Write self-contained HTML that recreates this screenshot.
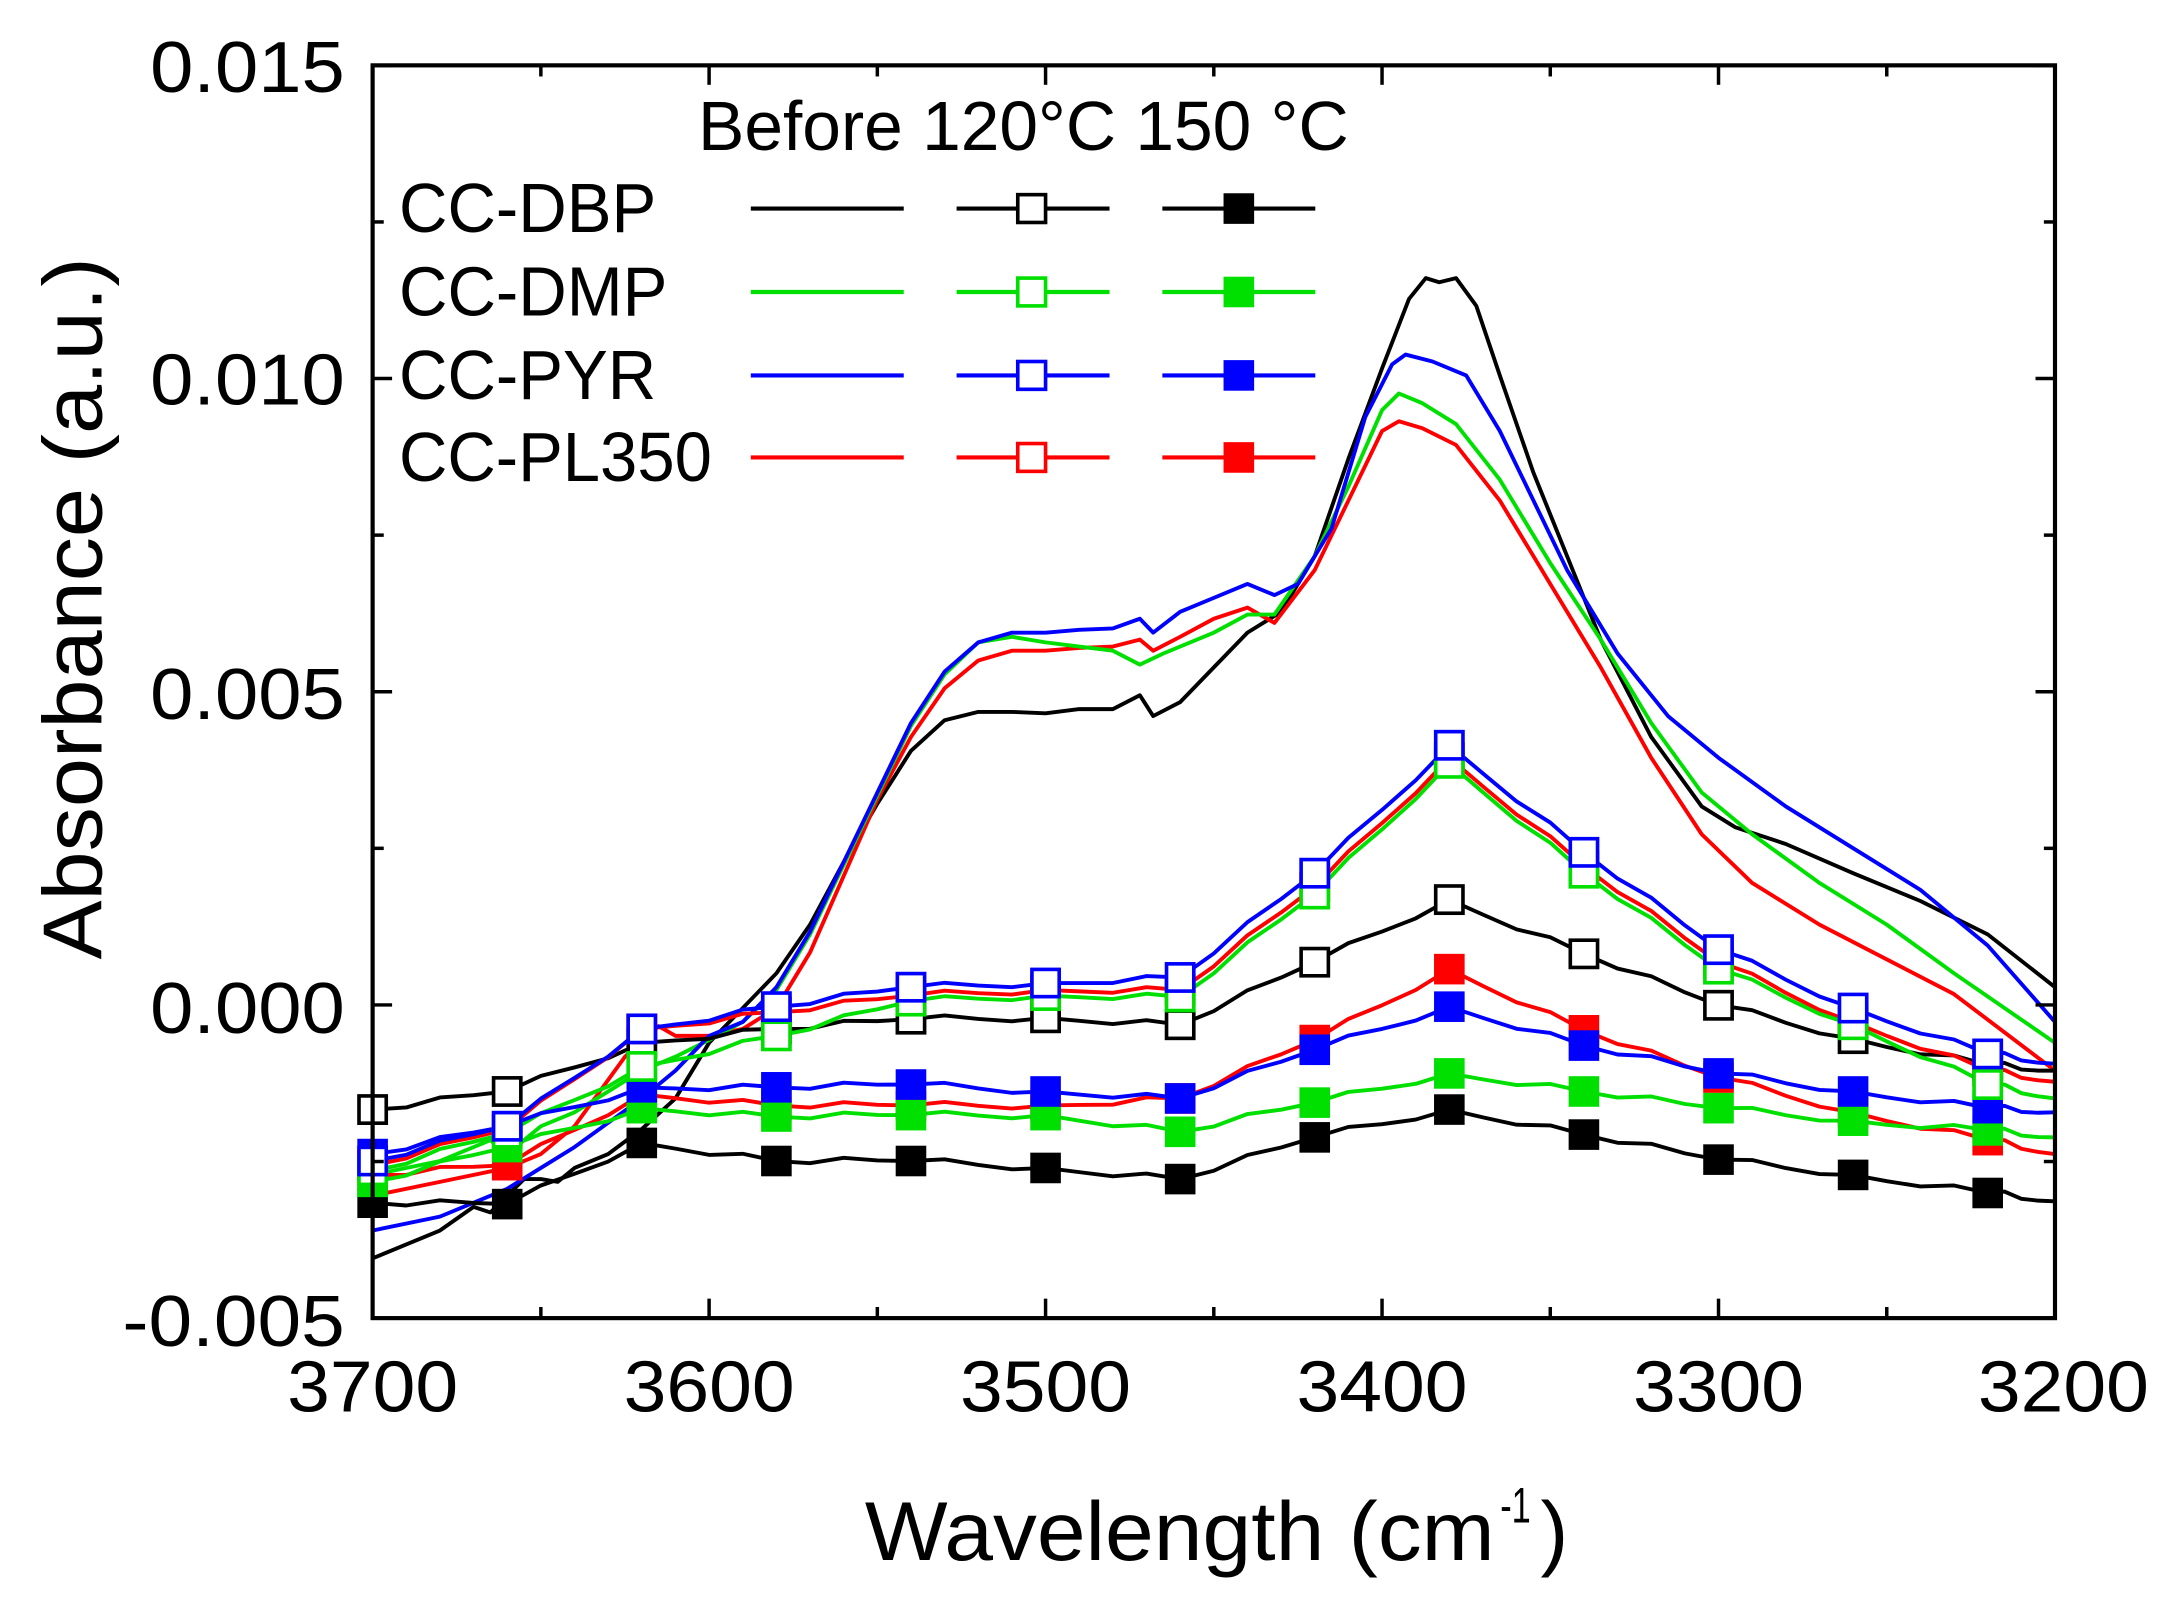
<!DOCTYPE html>
<html><head><meta charset="utf-8"><style>
html,body{margin:0;padding:0;background:#fff;}
svg{display:block;}
text{font-family:"Liberation Sans",Arial,sans-serif;fill:#000;}
</style></head><body>
<svg id="s" width="2169" height="1609" viewBox="0 0 1560 1157.2" preserveAspectRatio="none" xmlns="http://www.w3.org/2000/svg">
<rect x="0" y="0" width="1560" height="1158" fill="#fff"/>
<g id="plot"></g>
<rect x="268" y="47" width="1210" height="901" fill="none" stroke="#000" stroke-width="3"/>
<g id="ticks" stroke="#000" stroke-width="2.5"></g>
<g font-size="52" text-anchor="end">
<text x="248" y="66" textLength="140" lengthAdjust="spacingAndGlyphs">0.015</text>
<text x="248" y="291" textLength="140" lengthAdjust="spacingAndGlyphs">0.010</text>
<text x="248" y="517" textLength="140" lengthAdjust="spacingAndGlyphs">0.005</text>
<text x="248" y="743" textLength="140" lengthAdjust="spacingAndGlyphs">0.000</text>
<text x="248" y="968" textLength="160" lengthAdjust="spacingAndGlyphs">-0.005</text>
</g>
<g font-size="52" text-anchor="middle">
<text x="268" y="1015" textLength="123" lengthAdjust="spacingAndGlyphs">3700</text>
<text x="510" y="1015" textLength="123" lengthAdjust="spacingAndGlyphs">3600</text>
<text x="752" y="1015" textLength="123" lengthAdjust="spacingAndGlyphs">3500</text>
<text x="994" y="1015" textLength="123" lengthAdjust="spacingAndGlyphs">3400</text>
<text x="1236" y="1015" textLength="123" lengthAdjust="spacingAndGlyphs">3300</text>
<text x="1484" y="1015" textLength="123" lengthAdjust="spacingAndGlyphs">3200</text>
</g>
<text x="622" y="1122" font-size="60" textLength="453" lengthAdjust="spacingAndGlyphs">Wavelength (cm</text>
<text x="1079" y="1095" font-size="36" textLength="22" lengthAdjust="spacingAndGlyphs">-1</text>
<text x="1108" y="1122" font-size="60">)</text>
<text transform="translate(73,690) rotate(-90)" font-size="60" textLength="505" lengthAdjust="spacingAndGlyphs">Absorbance (a.u.)</text>
<g font-size="50">
<text x="502" y="108" textLength="468" lengthAdjust="spacingAndGlyphs">Before  120°C 150 °C</text>
<text x="287" y="167" textLength="185" lengthAdjust="spacingAndGlyphs">CC-DBP</text>
<text x="287" y="227" textLength="193" lengthAdjust="spacingAndGlyphs">CC-DMP</text>
<text x="287" y="287" textLength="185" lengthAdjust="spacingAndGlyphs">CC-PYR</text>
<text x="287" y="346" textLength="225" lengthAdjust="spacingAndGlyphs">CC-PL350</text>
</g>
<g id="legend"></g>
</svg>
<script>
var NS="http://www.w3.org/2000/svg";
function X(w){return 268+(3700-w)*2.42;}
function el(p,tag,a){var e=document.createElementNS(NS,tag);for(var k in a)e.setAttribute(k,a[k]);p.appendChild(e);return e;}
var plot=document.getElementById('plot'),ticks=document.getElementById('ticks'),leg=document.getElementById('legend');
for(var w=3700;w>=3200;w-=50){var x=X(w),l=(w%100==0)?14:8;el(ticks,'line',{x1:x,y1:948,x2:x,y2:948-l});el(ticks,'line',{x1:x,y1:47,x2:x,y2:47+l});}
for(var i=0;i<=8;i++){var y=47+i*112.625,l=(i%2==0)?14:8;el(ticks,'line',{x1:268,y1:y,x2:268+l,y2:y});el(ticks,'line',{x1:1478,y1:y,x2:1478-l,y2:y});}
var C={k:'#000',g:'#00e000',b:'#0000ff',r:'#ff0000'};
function pts(a){return a.map(function(p){return X(p[0]).toFixed(1)+','+p[1];}).join(' ');}
function jig(a){var out=[];for(var i=0;i<a.length-1;i++){var p=a[i],q=a[i+1];for(var j=0;j<4;j++){var t=j/4;var w=p[0]+(q[0]-p[0])*t,y=p[1]+(q[1]-p[1])*t;if(j>0)y+=Math.sin(w*1.7+i)*2.5;out.push([w,y.toFixed(1)]);}}out.push(a[a.length-1]);return out;}
function line(a,c){el(plot,'polyline',{points:pts(a),fill:'none',stroke:c,'stroke-width':2.8,'stroke-linejoin':'round'});}
var before={
k:[[3700,905],[3690,895],[3680,885],[3670,868],[3665,872],[3660,860],[3655,848],[3650,848],[3645,850],[3640,840],[3630,830],[3620,812],[3610,790],[3600,750],[3590,725],[3580,700],[3570,665],[3560,620],[3550,578],[3540,540],[3530,518],[3520,512],[3510,512],[3500,513],[3490,510],[3480,510],[3472,500],[3468,515],[3460,505],[3450,480],[3440,455],[3430,440],[3420,400],[3410,330],[3400,265],[3392,215],[3387,200],[3383,203],[3378,200],[3372,220],[3365,270],[3355,340],[3345,400],[3335,460],[3320,530],[3305,580],[3295,595],[3280,607],[3260,628],[3240,648],[3220,672],[3200,710]],
b:[[3700,885],[3680,875],[3660,855],[3650,840],[3640,825],[3620,790],[3610,770],[3600,745],[3590,735],[3580,710],[3570,670],[3560,620],[3550,570],[3540,520],[3530,483],[3520,462],[3510,455],[3500,455],[3490,453],[3480,452],[3472,445],[3468,455],[3460,440],[3450,430],[3440,420],[3432,428],[3425,420],[3415,380],[3405,300],[3397,262],[3393,255],[3385,260],[3375,270],[3365,310],[3355,360],[3345,410],[3330,470],[3315,515],[3300,545],[3280,580],[3260,610],[3240,640],[3220,680],[3200,735]],
g:[[3700,845],[3680,835],[3665,820],[3660,830],[3650,810],[3640,800],[3620,770],[3610,760],[3600,748],[3590,735],[3580,712],[3570,672],[3560,622],[3550,572],[3540,522],[3530,485],[3520,462],[3510,458],[3500,462],[3490,465],[3480,468],[3472,478],[3465,470],[3450,455],[3440,442],[3432,442],[3420,400],[3410,350],[3400,295],[3395,283],[3388,290],[3378,305],[3365,345],[3350,405],[3335,460],[3320,520],[3305,570],[3290,600],[3270,635],[3250,665],[3230,700],[3200,750]],
r:[[3700,860],[3680,850],[3660,840],[3650,830],[3640,810],[3625,760],[3615,738],[3610,745],[3600,745],[3590,740],[3580,725],[3570,685],[3560,630],[3550,575],[3540,530],[3530,495],[3520,475],[3510,468],[3500,468],[3490,466],[3480,465],[3472,460],[3468,468],[3460,458],[3450,445],[3440,437],[3432,448],[3420,410],[3410,360],[3400,310],[3395,303],[3388,308],[3378,320],[3365,360],[3350,420],[3335,480],[3320,545],[3305,600],[3290,635],[3270,665],[3250,690],[3230,715],[3200,770]]};
var WS=[3700,3660,3620,3580,3540,3500,3460,3420,3380,3340,3300,3260,3220];
var open={k:[798,785,750,740,733,732,737,692,647,686,723,747,766],
g:[842,815,767,745,720,716,717,643,549,628,697,737,780],
b:[835,810,740,724,710,707,703,628,536,613,683,725,758],
r:[838,812,740,728,716,712,712,638,545,623,692,735,770]};
var fill={k:[865,866,822,835,835,840,848,818,798,816,834,845,858],
g:[850,825,797,803,802,802,814,793,772,785,797,806,813],
b:[830,810,782,782,780,785,790,755,724,752,772,785,797],
r:[845,838,787,795,795,795,790,748,697,741,775,800,820]};
var endO={k:770,g:790,b:765,r:778},endF={k:864,g:818,b:800,r:830};
var order=['k','r','g','b'];
order.forEach(function(c){line(before[c],C[c]);});
function mk(a,e){var r=WS.map(function(w,i){return [w,a[i]];});r.push([3200,e]);return jig(r);}
order.forEach(function(c){line(mk(open[c],endO[c]),C[c]);line(mk(fill[c],endF[c]),C[c]);});
var S=22;
order.forEach(function(c){WS.forEach(function(w,i){el(plot,'rect',{x:X(w)-S/2,y:fill[c][i]-S/2,width:S,height:S,fill:C[c]});});});
order.forEach(function(c){WS.forEach(function(w,i){el(plot,'rect',{x:X(w)-S/2+1.2,y:open[c][i]-S/2+1.2,width:S-2.4,height:S-2.4,fill:'#fff',stroke:C[c],'stroke-width':2.6});});});
var rows=[['k',150],['g',210],['b',270],['r',329]];
rows.forEach(function(r){var c=C[r[0]],y=r[1];
el(leg,'line',{x1:540,y1:y,x2:650,y2:y,stroke:c,'stroke-width':3});
el(leg,'line',{x1:688,y1:y,x2:798,y2:y,stroke:c,'stroke-width':3});
el(leg,'line',{x1:836,y1:y,x2:946,y2:y,stroke:c,'stroke-width':3});
el(leg,'rect',{x:742-10,y:y-10,width:20,height:20,fill:'#fff',stroke:c,'stroke-width':2.6});
el(leg,'rect',{x:891-11,y:y-11,width:22,height:22,fill:c});});
</script>
</body></html>
